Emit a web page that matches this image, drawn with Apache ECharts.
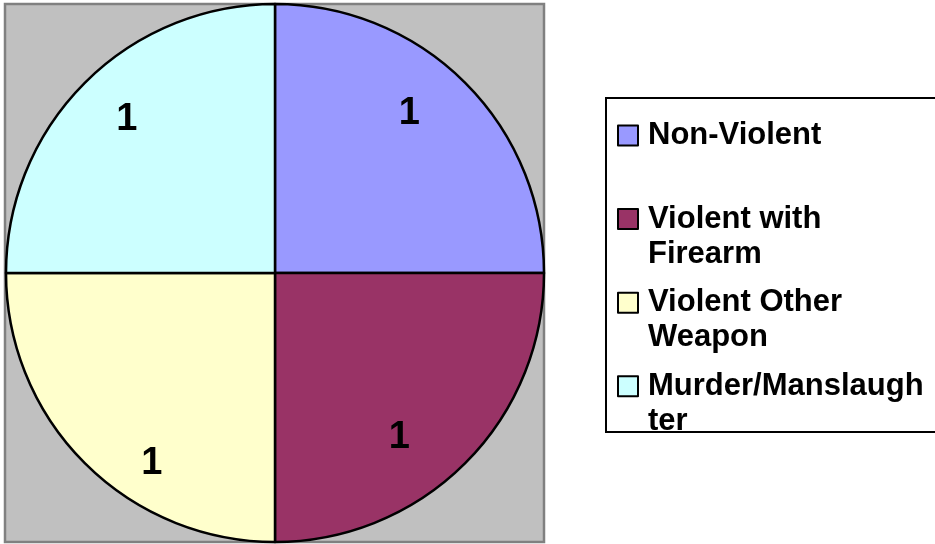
<!DOCTYPE html>
<html>
<head>
<meta charset="utf-8">
<script src="https://cdn.jsdelivr.net/npm/echarts@6/dist/echarts.min.js"></script>
<style>
html,body{margin:0;padding:0;background:#fff;}
#chart{width:935px;height:544px;}
</style>
</head>
<body>
<div id="chart"></div>
<script>
const categories = ['Non-Violent', 'Violent with Firearm', 'Violent Other Weapon', 'Murder/Manslaughter'];
const values = [1, 1, 1, 1];
const legendLabels = ['\nNon-Violent\n ', '\nViolent with\nFirearm', '\nViolent Other\nWeapon', '\nMurder/Manslaugh\nter'];
const colors = ['#9999FF', '#993366', '#FFFFCC', '#CCFFFF'];
const labelOffsets = [[37, -62], [27, 67], [-26, 93], [-51, -56]];

const chart = echarts.init(document.getElementById('chart'), null, {renderer: 'canvas'});
const font = '"Liberation Sans", Arial, sans-serif';

chart.setOption({
  animation: false,
  backgroundColor: '#ffffff',
  graphic: [
    {type: 'rect', z: -10, shape: {x: 5, y: 4, width: 539, height: 538},
     style: {fill: '#C0C0C0', stroke: '#808080', lineWidth: 2.5}},
    {type: 'rect', z: -10, shape: {x: 606, y: 98, width: 340, height: 334},
     style: {fill: '#ffffff', stroke: '#000000', lineWidth: 2}}
  ],
  legend: {
    orient: 'vertical',
    left: 617,
    top: 83,
    padding: 0,
    itemWidth: 20,
    itemHeight: 20,
    itemGap: -21.4,
    selectedMode: false,
    icon: 'rect',
    itemStyle: {borderColor: '#000', borderWidth: 2},
    data: categories,
    formatter: function (name) { return legendLabels[categories.indexOf(name)]; },
    textStyle: {
      fontFamily: font, fontWeight: 'bold', fontSize: 31, color: '#000',
      lineHeight: 35, padding: [0, 0, 0, 5]
    }
  },
  series: [{
    type: 'pie',
    center: [275, 273],
    radius: [0, 269],
    startAngle: 90,
    clockwise: true,
    silent: true,
    itemStyle: {borderColor: '#000', borderWidth: 2.5},
    label: {
      show: true, position: 'inside', formatter: '{c}',
      fontFamily: font, fontWeight: 'bold', fontSize: 38, color: '#000'
    },
    labelLine: {show: false},
    data: categories.map(function (c, i) {
      return {name: c, value: values[i], itemStyle: {color: colors[i]},
              label: {offset: labelOffsets[i]}};
    })
  }]
});
</script>
</body>
</html>
